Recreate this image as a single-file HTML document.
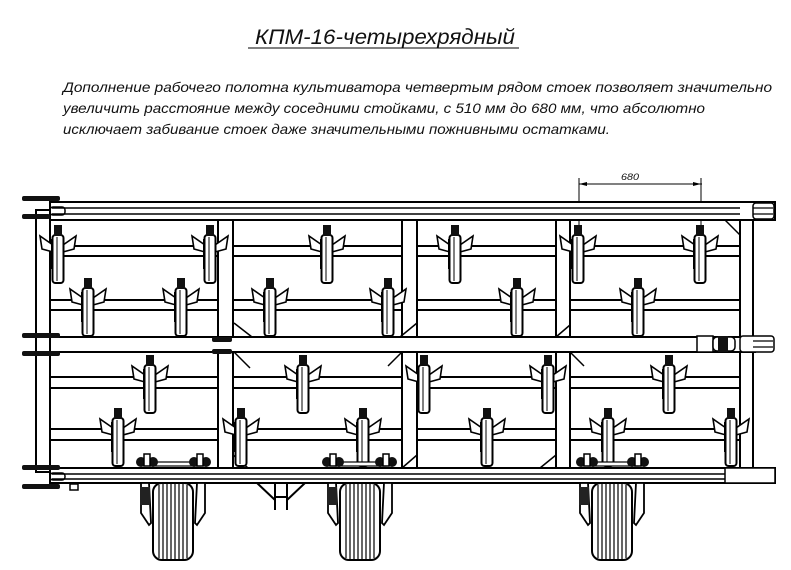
<!DOCTYPE html>
<html><head><meta charset="utf-8"><style>
html,body{margin:0;padding:0;background:#fff;}
svg{display:block;}
text{font-family:"Liberation Sans","DejaVu Sans",sans-serif;font-style:italic;fill:#111;}
</style></head><body>
<svg width="791" height="570" viewBox="0 0 791 570" xmlns="http://www.w3.org/2000/svg">
<defs>
<g id="sh">
  <polygon points="-5,20 -18,11 -16,24 -5,27" fill="#fff" stroke="#000" stroke-width="1.6"/>
  <polygon points="5,20 18,11 16,24 5,27" fill="#fff" stroke="#000" stroke-width="1.6"/>
  <rect x="-5.5" y="10" width="11" height="48" rx="3" fill="#fff" stroke="#000" stroke-width="2"/>
  <line x1="-1" y1="12" x2="-1" y2="56" stroke="#000" stroke-width="1"/>
  <rect x="-4" y="0" width="8" height="11" fill="#111"/>
  <rect x="-7" y="14" width="2.5" height="30" fill="#000"/>
</g>
<g id="clamp">
  <circle cx="-6" cy="0" r="5" fill="#111"/><circle cx="6" cy="0" r="5" fill="#111"/>
  <rect x="-3" y="-8" width="6" height="12" fill="#fff" stroke="#000" stroke-width="1.5"/>
</g>
<g id="wheel">
  <rect x="-20" y="0" width="40" height="77" rx="9" fill="#fff" stroke="#000" stroke-width="2"/>
  <g stroke="#000" stroke-width="1.2">
    <line x1="-14" y1="2" x2="-14" y2="75"/><line x1="-10" y1="1" x2="-10" y2="76"/>
    <line x1="-6" y1="1" x2="-6" y2="77"/><line x1="-2" y1="1" x2="-2" y2="77"/>
    <line x1="2" y1="1" x2="2" y2="77"/><line x1="6" y1="1" x2="6" y2="77"/>
    <line x1="10" y1="1" x2="10" y2="76"/><line x1="14" y1="2" x2="14" y2="75"/>
  </g>
  <path d="M-32,0 L-32,30 L-24,42 L-22,40 L-24,0 Z" fill="#fff" stroke="#000" stroke-width="1.8"/>
  <path d="M32,0 L32,30 L24,42 L22,40 L24,0 Z" fill="#fff" stroke="#000" stroke-width="1.8"/>
  <rect x="-33" y="4" width="10" height="18" fill="#222"/>
</g>
</defs>

<!-- title -->
<text x="255" y="44" font-size="21" textLength="260" lengthAdjust="spacingAndGlyphs">КПМ-16-четырехрядный</text>
<line x1="248" y1="48" x2="519" y2="48" stroke="#000" stroke-width="1"/>
<text x="63" y="92" font-size="14" textLength="709" lengthAdjust="spacingAndGlyphs">Дополнение рабочего полотна культиватора четвертым рядом стоек позволяет значительно</text>
<text x="63" y="113" font-size="14" textLength="642" lengthAdjust="spacingAndGlyphs">увеличить расстояние между соседними стойками, с 510 мм до 680 мм, что абсолютно</text>
<text x="63" y="134" font-size="14" textLength="547" lengthAdjust="spacingAndGlyphs">исключает забивание стоек даже значительными пожнивными остатками.</text>

<!-- dimension -->
<g stroke="#000" stroke-width="1">
<line x1="579" y1="184" x2="702" y2="184"/>
<line x1="579" y1="178" x2="579" y2="226"/>
<line x1="701" y1="178" x2="701" y2="226"/>
</g>
<polygon points="579,184 587,182 587,186" fill="#000"/>
<polygon points="701,184 693,182 693,186" fill="#000"/>
<text x="621" y="180" font-size="9" textLength="18" lengthAdjust="spacingAndGlyphs">680</text>

<g fill="#fff" stroke="#000" stroke-width="2">
<!-- rows bars -->
<rect x="50" y="246" width="690" height="10"/>
<rect x="50" y="300" width="690" height="10"/>
<rect x="50" y="377" width="690" height="11"/>
<rect x="50" y="429" width="690" height="11"/>
<!-- posts -->
<rect x="36" y="210" width="14" height="262"/>
<rect x="218" y="220" width="15" height="248"/>
<rect x="402" y="220" width="15" height="248"/>
<rect x="556" y="220" width="14" height="248"/>
<rect x="740" y="215" width="13" height="255"/>
<!-- top beam -->
<rect x="50" y="202" width="725" height="18"/>
<!-- mid beam -->
<rect x="50" y="337" width="705" height="15"/>
<!-- bottom beam -->
<rect x="50" y="468" width="725" height="15"/>
</g>
<g stroke="#000" stroke-width="1.5" fill="none">
<line x1="52" y1="208" x2="740" y2="208"/><line x1="52" y1="214" x2="740" y2="214"/>
<rect x="50" y="207" width="15" height="8" rx="3"/>
<line x1="52" y1="474" x2="740" y2="474"/><line x1="52" y1="479" x2="740" y2="479"/>
<rect x="50" y="473" width="15" height="7" rx="3"/>
<!-- braces -->
<line x1="234" y1="323" x2="252" y2="337"/><line x1="234" y1="352" x2="250" y2="368"/>
<line x1="417" y1="323" x2="400" y2="337"/>
<line x1="233" y1="455" x2="248" y2="468"/><line x1="417" y1="455" x2="402" y2="468"/>
<line x1="402" y1="352" x2="388" y2="366"/><line x1="570" y1="352" x2="584" y2="366"/>
<line x1="725" y1="220" x2="740" y2="235"/><line x1="556" y1="455" x2="540" y2="468"/>
<line x1="570" y1="325" x2="556" y2="337"/>
</g>
<!-- hitches left -->
<g fill="#111">
<rect x="22" y="196" width="38" height="5" rx="2"/>
<rect x="22" y="214" width="28" height="5" rx="2"/>
<rect x="22" y="333" width="38" height="5" rx="2"/>
<rect x="22" y="351" width="38" height="5" rx="2"/>
<rect x="22" y="465" width="38" height="5" rx="2"/>
<rect x="22" y="484" width="38" height="5" rx="2"/>
<rect x="212" y="337" width="20" height="5" rx="2"/>
<rect x="212" y="349" width="20" height="5" rx="2"/>
</g>
<rect x="70" y="484" width="8" height="6" fill="#fff" stroke="#000" stroke-width="1.5"/>
<!-- right end hitches -->
<g fill="#fff" stroke="#000" stroke-width="1.5">
<rect x="753" y="203" width="21" height="16" rx="3"/>
<rect x="697" y="336" width="16" height="16"/>
<rect x="713" y="337" width="22" height="14" rx="4"/>
<rect x="740" y="336" width="34" height="16" rx="3"/>
<rect x="725" y="468" width="50" height="15"/>
</g>
<g stroke="#000" stroke-width="1.2">
<line x1="753" y1="341" x2="773" y2="341"/><line x1="753" y1="347" x2="773" y2="347"/>
<line x1="753" y1="208" x2="773" y2="208"/><line x1="753" y1="214" x2="773" y2="214"/>
</g>
<rect x="718" y="336" width="10" height="16" fill="#111"/>

<!-- shanks -->
<use href="#sh" x="58" y="225"/><use href="#sh" x="210" y="225"/><use href="#sh" x="327" y="225"/>
<use href="#sh" x="455" y="225"/><use href="#sh" x="578" y="225"/><use href="#sh" x="700" y="225"/>
<use href="#sh" x="88" y="278"/><use href="#sh" x="181" y="278"/><use href="#sh" x="270" y="278"/>
<use href="#sh" x="388" y="278"/><use href="#sh" x="517" y="278"/><use href="#sh" x="638" y="278"/>
<use href="#sh" x="150" y="355"/><use href="#sh" x="303" y="355"/><use href="#sh" x="424" y="355"/>
<use href="#sh" x="548" y="355"/><use href="#sh" x="669" y="355"/>
<use href="#sh" x="118" y="408"/><use href="#sh" x="241" y="408"/><use href="#sh" x="363" y="408"/>
<use href="#sh" x="487" y="408"/><use href="#sh" x="608" y="408"/><use href="#sh" x="731" y="408"/>

<!-- wheels -->
<use href="#wheel" x="173" y="483"/>
<use href="#wheel" x="360" y="483"/>
<use href="#wheel" x="612" y="483"/>
<rect x="150" y="462" width="50" height="4" fill="#fff" stroke="#000" stroke-width="1.2"/>
<rect x="336" y="462" width="50" height="4" fill="#fff" stroke="#000" stroke-width="1.2"/>
<rect x="588" y="462" width="50" height="4" fill="#fff" stroke="#000" stroke-width="1.2"/>
<use href="#clamp" x="147" y="462"/><use href="#clamp" x="200" y="462"/>
<use href="#clamp" x="333" y="462"/><use href="#clamp" x="386" y="462"/>
<use href="#clamp" x="587" y="462"/><use href="#clamp" x="638" y="462"/>

<!-- stand -->
<g stroke="#000" stroke-width="2" fill="none">
<path d="M257,483 L275,500 M305,483 L287,500"/>
<line x1="275" y1="483" x2="275" y2="510"/><line x1="287" y1="483" x2="287" y2="510"/>
<line x1="275" y1="497" x2="287" y2="497"/>
</g>
</svg>
</body></html>
